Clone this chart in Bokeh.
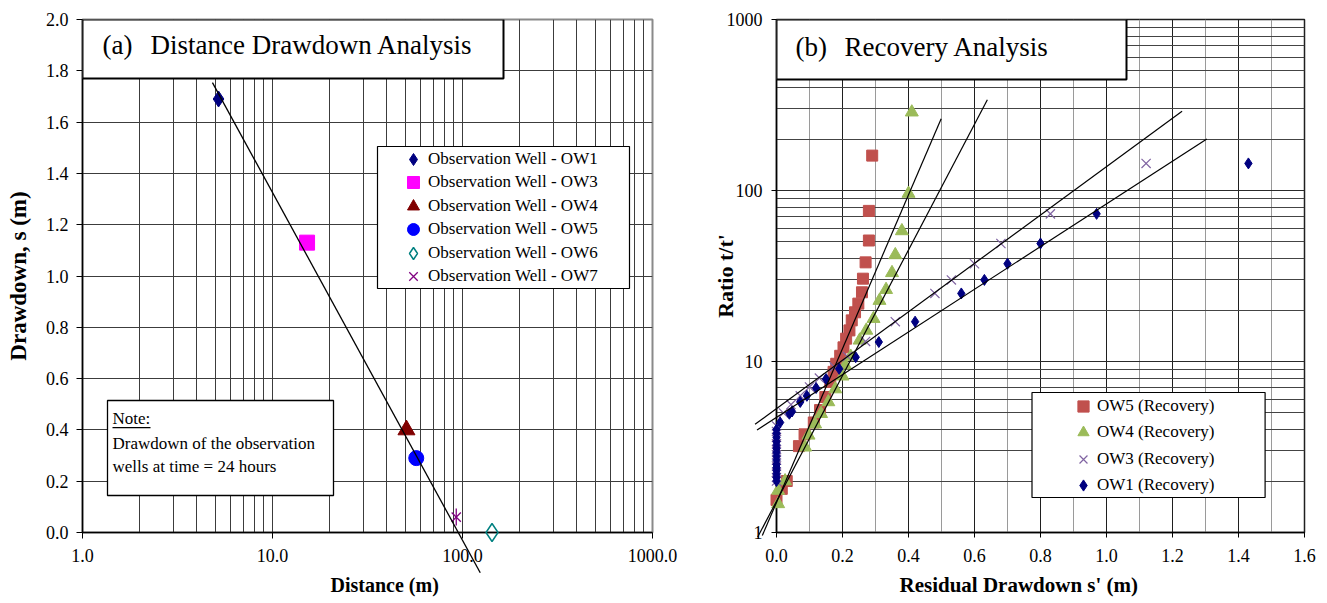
import math
from bokeh.plotting import figure
from bokeh.models import (FixedTicker, PrintfTickFormatter, BoxAnnotation, Label,
                          Legend, LegendItem, Title)
from bokeh.layouts import row
from bokeh.embed import file_html
from bokeh.resources import INLINE

SERIF = "Liberation Serif"

# ---------------- (a) Distance drawdown data (t = 24 h) ----------------
wells_a = ["OW1", "OW3", "OW4", "OW5", "OW6", "OW7"]
distance_m = [5.2, 15.2, 50.7, 57.1, 143.0, 92.7]
drawdown_m = [1.69, 1.13, 0.40, 0.29, 0.00, 0.06]
fit_a_distance = [4.83, 124.0]
fit_a_drawdown = [1.754, -0.157]

# ---------------- (b) Recovery data: residual drawdown s' vs t/t' ----------------
ow5_s = [0.29, 0.28, 0.28, 0.27, 0.262, 0.259, 0.248, 0.238, 0.228, 0.221, 0.211, 0.203,
         0.193, 0.181, 0.173, 0.163, 0.148, 0.132, 0.113, 0.085, 0.068, 0.031, 0.016, 0.0]
ow5_r = [160, 76, 51, 38, 30.5, 25.4, 21.8, 19.4, 17.4, 15.2, 13.6, 12.1,
         10.8, 9.7, 8.7, 7.6, 6.2, 5.2, 4.4, 3.75, 3.2, 2.0, 1.8, 1.55]

ow4_s = [0.41, 0.40, 0.38, 0.36, 0.35, 0.332, 0.312, 0.294, 0.272, 0.252, 0.225,
         0.208, 0.20, 0.178, 0.157, 0.135, 0.117, 0.097, 0.087, 0.026, 0.005, 0.005]
ow4_r = [287, 96, 58, 42, 33, 26.3, 22.7, 17.8, 15.2, 13.3, 10.7,
         9.5, 8.2, 6.9, 5.8, 4.95, 4.3, 3.7, 3.15, 2.0, 1.76, 1.47]

ow3_s = [1.12, 0.83, 0.68, 0.60, 0.53, 0.48, 0.36, 0.27, 0.215, 0.175, 0.13, 0.10, 0.072,
         0.044, 0.021, 0.0, 0.0, 0.0, 0.0, 0.0, 0.0, 0.0, 0.0, 0.0, 0.0, 0.0]
ow3_r = [144, 73, 49, 37.3, 30, 25, 17.1, 13.1, 10.7, 9.3, 8.0, 7.1, 6.3,
         5.6, 5.0, 4.2, 3.9, 3.6, 3.3, 3.05, 2.85, 2.65, 2.45, 2.25, 2.1, 2.0]

ow1_s = [1.43, 0.97, 0.80, 0.70, 0.63, 0.56, 0.42, 0.31, 0.24, 0.19, 0.15, 0.12, 0.092,
         0.072, 0.047, 0.039, 0.011, 0.0, 0.0, 0.0, 0.0, 0.0, 0.0, 0.0, 0.0, 0.0, 0.0,
         0.0, 0.0, 0.0, 0.0, 0.0]
ow1_r = [144, 73, 49, 37.3, 30, 25, 17.1, 13.0, 10.6, 9.06, 7.9, 7.0, 6.3,
         5.8, 5.1, 4.95, 4.4, 4.0, 3.8, 3.6, 3.4, 3.25, 3.1, 2.95, 2.8, 2.65, 2.5,
         2.4, 2.3, 2.2, 2.1, 2.0]

fit_ow5_s = [-0.043, 0.499]
fit_ow5_r = [0.96, 263]
fit_ow4_s = [-0.057, 0.639]
fit_ow4_r = [0.94, 339]
fit_ow3_s = [-0.065, 1.229]
fit_ow3_r = [4.29, 291]
fit_ow1_s = [-0.059, 1.304]
fit_ow1_r = [3.98, 200]

log_minor = [m * 10.0 ** e for e in range(3) for m in range(2, 10)]

# ---------------- geometry (canvas pixels) ----------------
FIG_H = 603
TOP, BOT = 19, 532                 # common frame top / bottom (the row aligns both frames)
A_L, A_W = 82, 570                 # (a): x 1..1000 log
B_OFF, B_L, B_W = 678, 98, 528     # (b): x 0..1.6


def ax_x(px):
    return 10 ** ((px - A_L) / (A_W / 3.0))


def ax_y(py):
    return 2.0 * (BOT - py) / (BOT - TOP)


def bx_x(px):
    return (px - B_OFF - B_L) / (B_W / 1.6)


def bx_y(py):
    return 10 ** (3.0 * (BOT - py) / (BOT - TOP))


def add_label(p, text, x, y, size="17px", bold=False, align="left"):
    p.add_layout(Label(x=x, y=y, text=text, text_font=SERIF, text_font_size=size,
                       text_font_style="bold" if bold else "normal", text_color="black",
                       text_align=align, text_baseline="middle"))


def add_box(p, left, right, top, bottom, lw=1.2):
    p.add_layout(BoxAnnotation(left=left, right=right, top=top, bottom=bottom,
                               fill_color="white", fill_alpha=1.0, line_color="black",
                               line_width=lw, line_alpha=1.0))


def style_axes(p, xstand, ystand, tick_out):
    for ax in (p.xaxis[0], p.yaxis[0]):
        ax.axis_line_color = "black"
        ax.axis_line_width = 1.5
        ax.major_tick_line_color = "black"
        ax.major_tick_out = tick_out
        ax.major_tick_in = 0
        ax.minor_tick_line_color = None
        ax.major_label_text_font = SERIF
        ax.major_label_text_font_size = "18px"
        ax.major_label_text_color = "black"
        ax.axis_label_text_font = SERIF
        ax.axis_label_text_font_style = "bold"
        ax.axis_label_text_color = "black"
    p.xaxis[0].major_label_standoff = xstand
    p.yaxis[0].major_label_standoff = ystand


def single_legend(p, label, renderers, frame_left, left_px, center_py, glyph, size):
    leg = Legend(items=[LegendItem(label=label, renderers=renderers)],
                 location=(left_px - frame_left, BOT - (center_py + glyph / 2.0)),
                 orientation="vertical", glyph_width=glyph, glyph_height=glyph, spacing=0,
                 label_standoff=0, padding=0, margin=0, border_line_color=None,
                 background_fill_alpha=0, label_text_font=SERIF, label_text_font_size=size,
                 label_text_color="black")
    p.add_layout(leg, "center")


# ======================= (a) =======================
pa = figure(width=678, height=FIG_H, x_axis_type="log", x_range=(1, 1000), y_range=(0, 2.0),
            output_backend="svg", toolbar_location=None, title=None,
            min_border_left=A_L, min_border_right=678 - A_L - A_W, min_border_top=TOP,
            min_border_bottom=FIG_H - BOT,
            background_fill_color="white", border_fill_color="white")
pa.xaxis.ticker = FixedTicker(ticks=[1, 10, 100, 1000], minor_ticks=log_minor)
pa.xaxis.formatter = PrintfTickFormatter(format="%.1f")
pa.yaxis.ticker = FixedTicker(ticks=[round(0.2 * i, 1) for i in range(11)])
pa.yaxis.formatter = PrintfTickFormatter(format="%.1f")
style_axes(pa, 10, 8, 6)
pa.yaxis.axis_label = "Drawdown, s (m)"
pa.yaxis.axis_label_text_font_size = "23px"
pa.yaxis.axis_label_standoff = 12
pa.xgrid.grid_line_color = "#3c3c3c"
pa.xgrid.minor_grid_line_color = "#3c3c3c"
pa.ygrid.grid_line_color = "#3c3c3c"
pa.outline_line_color = "#8a8a8a"
pa.outline_line_width = 2
pa.add_layout(Title(text="Distance (m)", align="left", offset=330 - A_L, standoff=15,
                    text_font=SERIF, text_font_size="20px", text_font_style="bold",
                    text_color="black"), "below")

styles_a = [
    dict(marker="diamond", size=16, fill_color="#000080", line_color="#000080"),
    dict(marker="square", size=15, fill_color="#FF00FF", line_color="#FF00FF"),
    dict(marker="triangle", size=17, fill_color="#800000", line_color="#800000"),
    dict(marker="circle", size=15, fill_color="#0000FF", line_color="#0000FF"),
    dict(marker="diamond", size=18, fill_color=None, line_color="#008080", line_width=1.5),
]
rend_a = []
for i in range(5):
    rend_a.append([pa.scatter([distance_m[i]], [drawdown_m[i]], level="overlay", **styles_a[i])])
r7a = pa.scatter([distance_m[5]], [drawdown_m[5]], marker="x", size=13, line_color="#800080",
                 line_width=1.3, level="overlay")
pa.scatter([distance_m[5]], [drawdown_m[5]], marker="dash", angle=math.pi / 2, size=17,
           line_color="#800080", line_width=1.3, level="overlay")
rend_a.append([r7a])

pa.line(fit_a_distance, fit_a_drawdown, line_color="black", line_width=1.3, level="overlay")

# title box
add_box(pa, 1, ax_x(503), 2.0, ax_y(78), lw=2)
add_label(pa, "(a)", ax_x(102), ax_y(44), size="27px")
add_label(pa, "Distance Drawdown Analysis", ax_x(150), ax_y(44), size="27px")
# note box
add_box(pa, ax_x(107), ax_x(333), ax_y(400), ax_y(495), lw=1.3)
add_label(pa, "Note:", ax_x(112), ax_y(418))
pa.add_layout(BoxAnnotation(left=ax_x(112), right=ax_x(150), top=ax_y(426.4), bottom=ax_y(427.7),
                            fill_color="black", fill_alpha=1.0, line_color=None))
add_label(pa, "Drawdown of the observation", ax_x(112), ax_y(442.5))
add_label(pa, "wells at time = 24 hours", ax_x(112), ax_y(465.7))
# legend
add_box(pa, ax_x(377), ax_x(629), ax_y(146), ax_y(288), lw=1.2)
for i in range(6):
    single_legend(pa, "Observation Well - " + wells_a[i], rend_a[i], A_L,
                  398, 159 + 23.4 * i, 30, "17px")

# ======================= (b) =======================
pb = figure(width=646, height=FIG_H, y_axis_type="log", x_range=(0, 1.6), y_range=(1, 1000),
            output_backend="svg", toolbar_location=None, title=None,
            min_border_left=B_L, min_border_right=646 - B_L - B_W, min_border_top=TOP,
            min_border_bottom=FIG_H - BOT,
            background_fill_color="white", border_fill_color="white")
pb.xaxis.ticker = FixedTicker(ticks=[round(0.2 * i, 1) for i in range(9)],
                              minor_ticks=[round(0.1 + 0.2 * i, 1) for i in range(8)])
pb.xaxis.formatter = PrintfTickFormatter(format="%.1f")
pb.yaxis.ticker = FixedTicker(ticks=[1, 10, 100, 1000], minor_ticks=log_minor)
pb.yaxis.formatter = PrintfTickFormatter(format="%d")
style_axes(pb, 11, 9, 5)
pb.yaxis.axis_label = "Ratio t/t'"
pb.yaxis.axis_label_text_font_size = "22px"
pb.yaxis.axis_label_standoff = -14
pb.xgrid.grid_line_color = "#1f1f1f"
pb.xgrid.minor_grid_line_color = "#9a9a9a"
pb.ygrid.grid_line_color = "#2a2a2a"
pb.ygrid.minor_grid_line_color = "#444444"
pb.outline_line_color = "#1f1f1f"
pb.outline_line_width = 1.5
pb.add_layout(Title(text="Residual Drawdown s' (m)", align="left", offset=899 - B_OFF - B_L,
                    standoff=12, text_font=SERIF, text_font_size="21px", text_font_style="bold",
                    text_color="black"), "below")

r5 = pb.scatter(ow5_s, ow5_r, marker="square", size=11, fill_color="#C0504D",
                line_color="#C0504D", level="overlay")
r4 = pb.scatter(ow4_s, ow4_r, marker="triangle", size=13, fill_color="#9BBB59",
                line_color="#9BBB59", level="overlay")
r3 = pb.scatter(ow3_s, ow3_r, marker="x", size=13, line_color="#8064A2", line_width=1.2,
                level="overlay")
r1 = pb.scatter(ow1_s, ow1_r, marker="diamond", size=11, fill_color="#000080",
                line_color="#000080", level="overlay")
for fs, fr in ((fit_ow5_s, fit_ow5_r), (fit_ow4_s, fit_ow4_r),
               (fit_ow3_s, fit_ow3_r), (fit_ow1_s, fit_ow1_r)):
    pb.line(fs, fr, line_color="black", line_width=1.2, level="overlay")

add_box(pb, 0, bx_x(B_OFF + 448), 1000, bx_y(79), lw=2)
add_label(pb, "(b)", bx_x(795), bx_y(46), size="27px")
add_label(pb, "Recovery Analysis", bx_x(844), bx_y(46), size="27px")

add_box(pb, bx_x(1031.5), bx_x(1264.6), bx_y(392), bx_y(497), lw=1.2)
items_b = [("OW5 (Recovery)", r5), ("OW4 (Recovery)", r4),
           ("OW3 (Recovery)", r3), ("OW1 (Recovery)", r1)]
for k, (lab, rr) in enumerate(items_b):
    single_legend(pb, lab, [rr], B_L, 1069 - B_OFF, 405.7 + 26.4 * k, 28, "17px")

layout = row(pa, pb)
open("out.html", "w").write(file_html(layout, INLINE))
